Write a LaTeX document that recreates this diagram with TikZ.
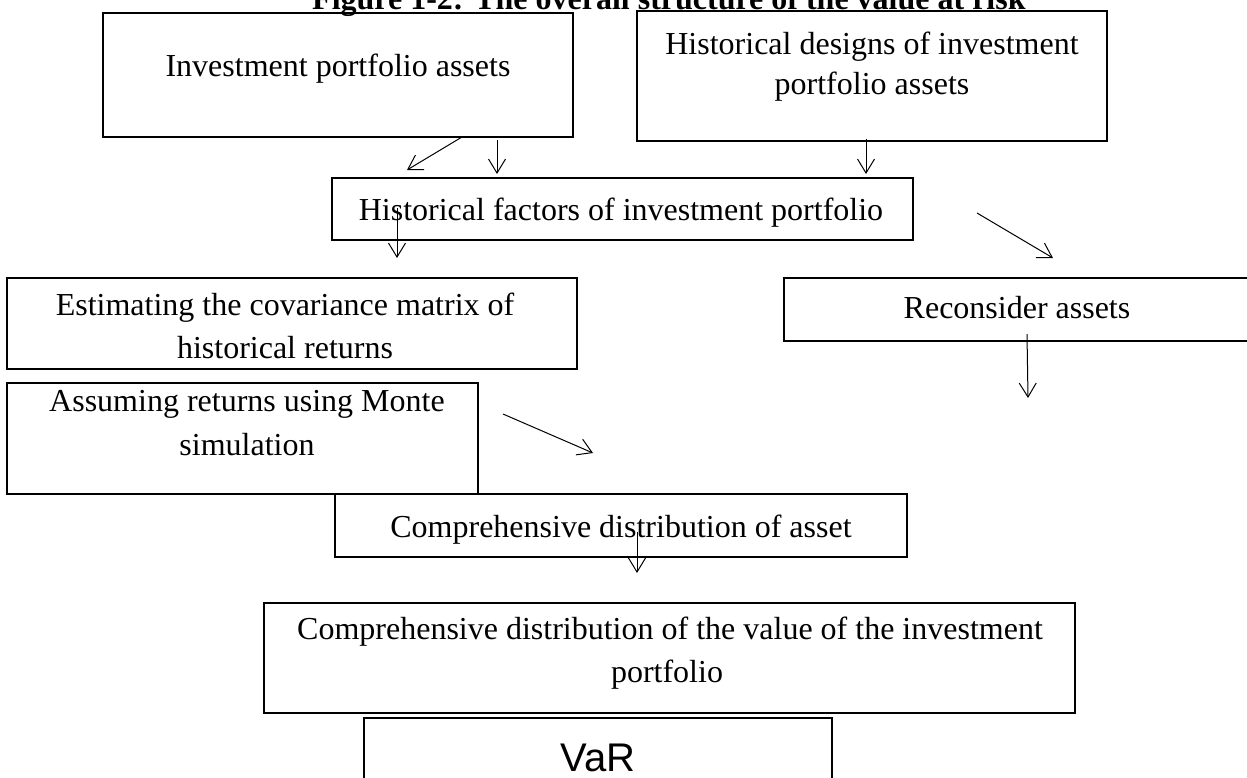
\documentclass[tikz,border=0pt]{standalone}
\usepackage{fontspec}
\setmainfont{Liberation Serif}
\newfontfamily\arialfont{Liberation Sans}
\usetikzlibrary{arrows.meta}
\begin{document}
\begin{tikzpicture}[x=1pt,y=-1pt,
  box/.style={draw, line width=2pt, anchor=north west, inner sep=0pt, outer sep=0pt},
  txt/.style={anchor=base, inner sep=0pt, font=\fontsize{32}{38}\selectfont},
  arr/.style={line width=1pt, -{Straight Barb[length=14pt,width=17pt,line width=1pt]}}]
\useasboundingbox (0,0) rectangle (1247,777);
\fill[white] (0,0) rectangle (1247,777);
% title (mostly cut off at the top)
\node[txt, anchor=base west, font=\bfseries\fontsize{32}{38}\selectfont] (title) at (312,9) {Figure 1-2: The overall structure of the value at risk};
% boxes
\node[box, minimum width=470pt, minimum height=124pt] (b1) at (103,13) {};
\node[box, minimum width=470pt, minimum height=130pt] (b2) at (637,11) {};
\node[box, minimum width=581pt, minimum height=62pt] (b3) at (332,178) {};
\node[box, minimum width=570pt, minimum height=91pt] (b4) at (7,278) {};
\node[box, minimum width=480pt, minimum height=63pt] (b5) at (784,278) {};
\node[box, minimum width=471pt, minimum height=111pt] (b6) at (7,383) {};
\node[box, minimum width=572pt, minimum height=63pt] (b7) at (335,494) {};
\node[box, minimum width=811pt, minimum height=110pt] (b8) at (264,603) {};
\node[box, minimum width=468pt, minimum height=80pt] (b9) at (364,718) {};
% texts
\node[txt] (t1) at (338,76) {Investment portfolio assets};
\node[txt] (t2a) at (872,54) {Historical designs of investment};
\node[txt] (t2b) at (872,94) {portfolio assets};
\node[txt] (t3) at (621,220) {Historical factors of investment portfolio};
\node[txt] (t4a) at (285,315) {Estimating the covariance matrix of};
\node[txt] (t4b) at (285,358) {historical returns};
\node[txt] (t5) at (1017,318) {Reconsider assets};
\node[txt] (t6a) at (247,411) {Assuming returns using Monte};
\node[txt] (t6b) at (247,455) {simulation};
\node[txt] (t7) at (621,537) {Comprehensive distribution of asset};
\node[txt] (t8a) at (670,639) {Comprehensive distribution of the value of the investment};
\node[txt] (t8b) at (667,682) {portfolio};
\node[txt, font=\arialfont\fontsize{40}{46}\selectfont] (t9) at (598,771) {VaR};
% arrow end points
\coordinate (a1) at (462,137); \coordinate (a2) at (407,170);
\coordinate (b1s) at (497,140); \coordinate (b1e) at (497,174);
\coordinate (c1) at (866,139); \coordinate (c2) at (866,174);
\coordinate (d1) at (397,208); \coordinate (d2) at (397,258);
\coordinate (e1) at (977,213); \coordinate (e2) at (1053,258);
\coordinate (f1) at (1027,334); \coordinate (f2) at (1028,398);
\coordinate (g1) at (503,414); \coordinate (g2) at (593,453);
\coordinate (h1) at (637,532); \coordinate (h2) at (637,573);
\draw[arr] (a1) -- (a2);
\draw[arr] (b1s) -- (b1e);
\draw[arr] (c1) -- (c2);
\draw[arr] (d1) -- (d2);
\draw[arr] (e1) -- (e2);
\draw[arr] (f1) -- (f2);
\draw[arr] (g1) -- (g2);
\draw[arr] (h1) -- (h2);
\end{tikzpicture}
\end{document}
